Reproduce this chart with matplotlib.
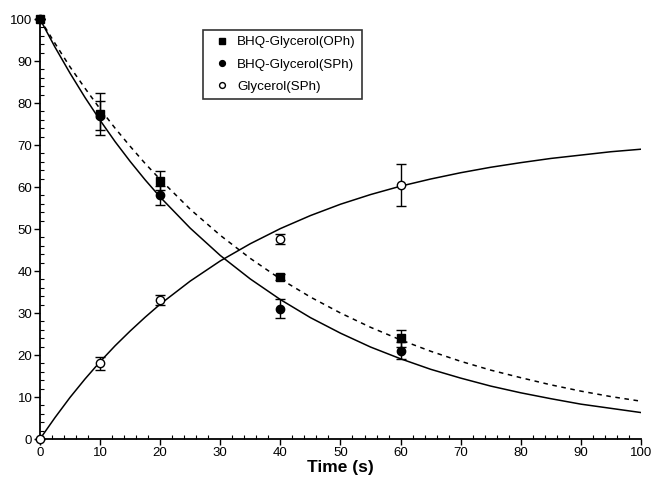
import matplotlib
matplotlib.use('Agg')
import matplotlib.pyplot as plt
from matplotlib.ticker import MultipleLocator

plt.rcParams['font.family'] = ['Liberation Sans', 'DejaVu Sans']

# measured points (time in s, % remaining / formed)
t_points = [0, 10, 20, 40, 60]
oph_vals = [100, 77.5, 61.5, 38.6, 24.0]
oph_err = [0, 5.0, 2.2, 0.7, 2.0]
sph_vals = [100, 77.0, 58.0, 31.0, 21.0]
sph_err = [0, 3.4, 2.3, 2.3, 2.0]
gly_vals = [0, 18.0, 33.1, 47.6, 60.5]
gly_err = [0, 1.5, 1.3, 1.1, 5.0]

# fitted curves
t_fit = [0, 2.5, 5, 7.5, 10, 12.5, 15, 17.5, 20, 25, 30, 35, 40, 45, 50,
         55, 60, 65, 70, 75, 80, 85, 90, 95, 100]
oph_fit = [100, 94.2, 88.6, 83.5, 78.6, 74.0, 69.7, 65.6, 61.8, 54.7, 48.5,
           43.0, 38.1, 33.8, 30.0, 26.6, 23.6, 20.9, 18.5, 16.4, 14.6,
           12.9, 11.4, 10.1, 9.0]
sph_fit = [100, 93.3, 87.1, 81.3, 75.9, 70.8, 66.1, 61.7, 57.6, 50.2, 43.7,
           38.1, 33.2, 28.9, 25.2, 21.9, 19.1, 16.6, 14.5, 12.6, 11.0,
           9.6, 8.3, 7.3, 6.3]
gly_fit = [0, 5.1, 9.9, 14.3, 18.4, 22.2, 25.7, 29.0, 32.1, 37.6, 42.4,
           46.5, 50.1, 53.2, 55.9, 58.2, 60.2, 61.9, 63.4, 64.7, 65.8,
           66.8, 67.6, 68.4, 69.0]

fig = plt.figure(figsize=(6.52, 4.8), dpi=100)
ax = fig.add_axes([0.0613, 0.0854, 0.9218, 0.875])

ax.plot(t_fit, oph_fit, color='black', lw=1.1, ls=(0, (3, 3)))
ax.plot(t_fit, sph_fit, color='black', lw=1.1)
ax.plot(t_fit, gly_fit, color='black', lw=1.1)

eb = dict(color='black', elinewidth=1.0, capsize=3.5, capthick=1.0,
          ls='none', clip_on=False, zorder=3)
c1 = ax.errorbar(t_points, oph_vals, yerr=oph_err, marker='s', ms=6,
                 mfc='black', mec='black', **eb)
c2 = ax.errorbar(t_points, sph_vals, yerr=sph_err, marker='o', ms=6,
                 mfc='black', mec='black', **eb)
c3 = ax.errorbar(t_points, gly_vals, yerr=gly_err, marker='o', ms=6,
                 mfc='white', mec='black', mew=1.0, **eb)

ax.set_xlim(0, 100)
ax.set_ylim(0, 100)
ax.xaxis.set_major_locator(MultipleLocator(10))
ax.xaxis.set_minor_locator(MultipleLocator(2))
ax.yaxis.set_major_locator(MultipleLocator(10))
ax.yaxis.set_minor_locator(MultipleLocator(2))
ax.tick_params(which='major', direction='out', length=4, width=1,
               labelsize=9.5, pad=1.5)
ax.tick_params(which='minor', direction='in', length=3, width=0.8)

for side in ('top', 'right'):
    ax.spines[side].set_visible(False)
for side in ('left', 'bottom'):
    ax.spines[side].set_linewidth(1.3)

ax.set_xlabel('Time (s)', fontsize=12.5, fontweight='bold', labelpad=1)

labels = ['BHQ-Glycerol(OPh)', 'BHQ-Glycerol(SPh)', 'Glycerol(SPh)']
leg = ax.legend([c1[0], c2[0], c3[0]], labels,
                loc='upper left', bbox_to_anchor=(0.2712, 0.9738),
                fontsize=9.6, frameon=True, fancybox=False, markerscale=0.7,
                handlelength=2.0, handletextpad=0.1, borderpad=0.45,
                labelspacing=0.75, borderaxespad=0)
leg.get_frame().set_edgecolor('black')
leg.get_frame().set_linewidth(1.2)

fig.savefig('out.png', dpi=100)
